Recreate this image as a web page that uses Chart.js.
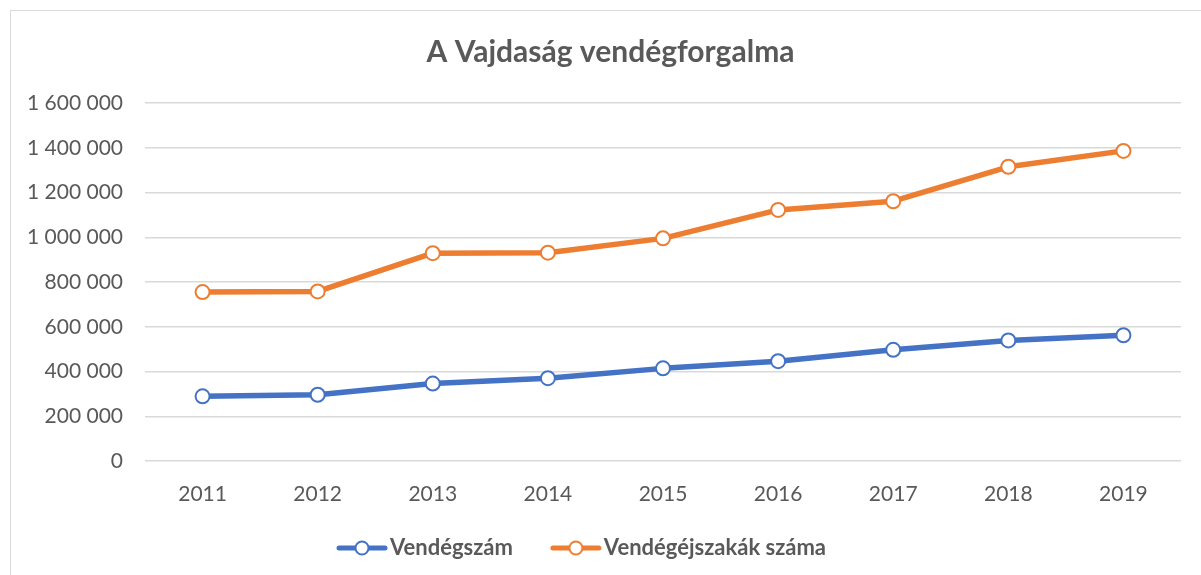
<!DOCTYPE html>
<html>
<head>
<meta charset="utf-8">
<script src="https://cdn.jsdelivr.net/npm/chart.js@4"></script>
<style>
  html, body { margin: 0; padding: 0; background: #fff; overflow: hidden; }
  #frame { position: absolute; left: 10px; top: 10px; width: 1240px; height: 620px; border: 1px solid #d9d9d9; }
  #wrap { position: absolute; left: 0; top: 0; width: 1201px; height: 575px; }
</style>
</head>
<body>
<div id="frame"></div>
<div id="wrap"><canvas id="myLineChart" width="1201" height="575"></canvas></div>
<script>
var years = ['2011', '2012', '2013', '2014', '2015', '2016', '2017', '2018', '2019'];
var vendegszam = [289000, 296000, 346000, 370000, 414000, 446000, 497000, 539000, 562000];
var vendegejszakak = [755000, 758000, 929000, 931000, 995000, 1122000, 1161000, 1315000, 1386000];
var yTicks = [0, 200000, 400000, 600000, 800000, 1000000, 1200000, 1400000, 1600000];

var BLUE = '#4472C4';
var ORANGE = '#ED7D31';
var TEXT = '#595959';
var FONT = 'Lato, "Open Sans", sans-serif';

function fmt(v) {
  return String(v).replace(/\B(?=(\d{3})+(?!\d))/g, ' ');
}

// line + circle picture for the legend (drawn centred on the box, line runs x+8 .. x+58)
function legendMark(color) {
  var c = document.createElement('canvas');
  c.width = 70; c.height = 18;
  var g = c.getContext('2d');
  g.strokeStyle = color;
  g.lineWidth = 5;
  g.lineCap = 'round';
  g.beginPath(); g.moveTo(20, 9); g.lineTo(66, 9); g.stroke();
  g.lineWidth = 2;
  g.fillStyle = '#fff';
  g.beginPath(); g.arc(43, 9, 6.5, 0, Math.PI * 2); g.fill(); g.stroke();
  return c;
}
var marks = [legendMark(BLUE), legendMark(ORANGE)];

// nudge legend left and title right, like the original
var boxShift = {
  id: 'boxShift',
  afterLayout: function(chart) {
    chart.legend.left -= 13;
    chart.legend.right -= 13;
    chart.titleBlock.left += 20;
    chart.titleBlock.right += 20;
  }
};

var ctx = document.getElementById('myLineChart').getContext('2d');
var myChart = new Chart(ctx, {
  type: 'line',
  data: {
    labels: years,
    datasets: [{
      label: 'Vendégszám',
      data: vendegszam,
      borderColor: BLUE,
      backgroundColor: BLUE,
      borderWidth: 5.5,
      pointRadius: 7,
      pointBorderWidth: 2,
      pointBackgroundColor: '#fff',
      pointBorderColor: BLUE,
      borderJoinStyle: 'round',
      borderCapStyle: 'round'
    }, {
      label: 'Vendégéjszakák száma',
      data: vendegejszakak,
      borderColor: ORANGE,
      backgroundColor: ORANGE,
      borderWidth: 5.5,
      pointRadius: 7,
      pointBorderWidth: 2,
      pointBackgroundColor: '#fff',
      pointBorderColor: ORANGE,
      borderJoinStyle: 'round',
      borderCapStyle: 'round'
    }]
  },
  options: {
    responsive: false,
    animation: false,
    layout: { padding: { left: 0, right: 20, top: 0, bottom: 6 } },
    plugins: {
      title: {
        display: true,
        text: 'A Vajdaság vendégforgalma',
        color: TEXT,
        font: { family: FONT, size: 30, weight: 'bold' },
        padding: { top: 34, bottom: 33 }
      },
      legend: {
        position: 'bottom',
        labels: {
          color: TEXT,
          font: { family: FONT, size: 22, weight: 'bold' },
          usePointStyle: true,
          pointStyleWidth: 50,
          padding: 30,
          generateLabels: function(chart) {
            var items = Chart.defaults.plugins.legend.labels.generateLabels(chart);
            items.forEach(function(it, i) { it.pointStyle = marks[i]; });
            return items;
          }
        }
      },
      tooltip: { enabled: false }
    },
    scales: {
      x: {
        offset: true,
        grid: { display: false },
        border: { display: false },
        ticks: { color: TEXT, font: { family: FONT, size: 21 }, padding: 13 },
        afterFit: function(s) { s.height = 46; }
      },
      y: {
        min: 0,
        max: 1600000,
        afterBuildTicks: function(s) { s.ticks = yTicks.map(function(v) { return { value: v }; }); },
        grid: { color: '#d9d9d9', lineWidth: 1.5, drawTicks: false },
        border: { display: false },
        ticks: { color: TEXT, font: { family: FONT, size: 21 }, padding: 22, callback: function(v) { return fmt(v); } },
        afterFit: function(s) { s.width = 145; }
      }
    }
  },
  plugins: [boxShift]
});
</script>
</body>
</html>
